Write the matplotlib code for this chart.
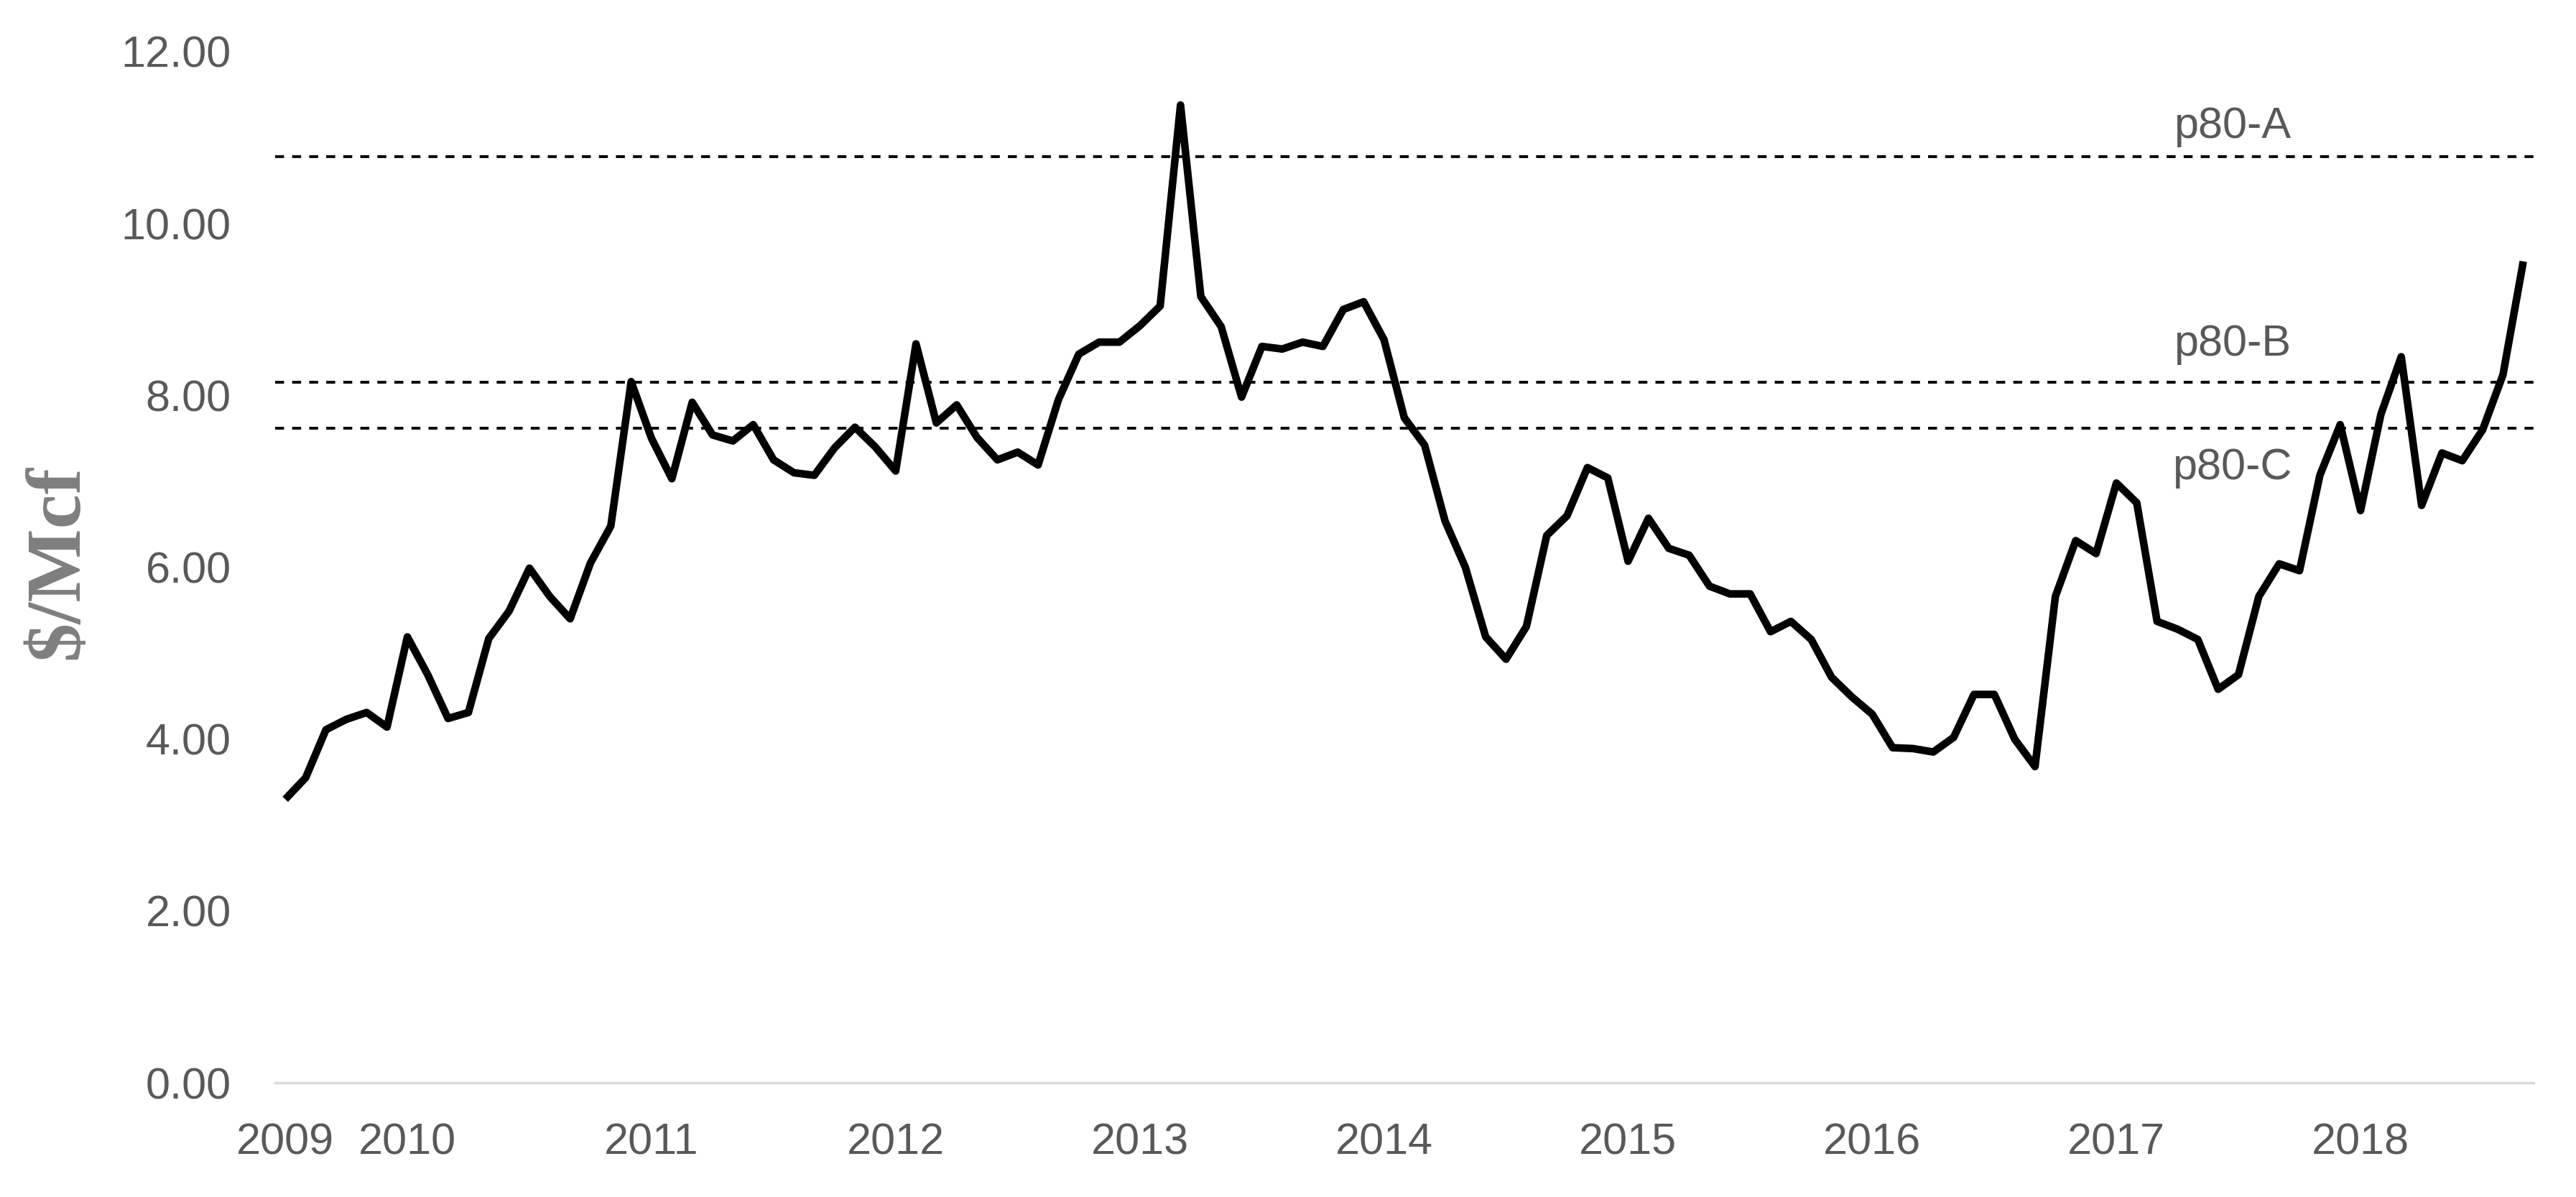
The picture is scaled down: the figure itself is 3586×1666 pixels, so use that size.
import matplotlib
matplotlib.use("Agg")
import matplotlib.pyplot as plt
import pandas as pd

# monthly price, Jul 2009 .. Sep 2018 ($/Mcf)
price = [
    3.30, 3.55, 4.11, 4.23, 4.31, 4.14, 5.19, 4.75, 4.24, 4.31, 5.17, 5.49,
    5.99, 5.66, 5.40, 6.05, 6.48, 8.16, 7.50, 7.03, 7.92, 7.54, 7.47, 7.66,
    7.25, 7.10, 7.07, 7.39, 7.63, 7.40, 7.12, 8.60, 7.68, 7.89, 7.51, 7.25,
    7.34, 7.19, 7.95, 8.48, 8.62, 8.62, 8.81, 9.04, 11.38, 9.15, 8.80, 7.98,
    8.57, 8.54, 8.62, 8.57, 9.00, 9.09, 8.65, 7.74, 7.42, 6.54, 6.00, 5.19,
    4.93, 5.31, 6.37, 6.60, 7.16, 7.04, 6.07, 6.57, 6.22, 6.14, 5.78, 5.69,
    5.69, 5.25, 5.37, 5.16, 4.72, 4.49, 4.29, 3.90, 3.89, 3.85, 4.02, 4.52,
    4.52, 4.00, 3.68, 5.66, 6.31, 6.16, 6.98, 6.75, 5.37, 5.28, 5.16, 4.58,
    4.75, 5.66, 6.04, 5.96, 7.07, 7.66, 6.66, 7.78, 8.45, 6.72, 7.33, 7.24,
    7.60, 8.24, 9.56,
]
months = pd.date_range("2009-07-01", periods=len(price), freq="MS")

ref_names = ["p80-A", "p80-B", "p80-C"]
ref_levels = [10.78, 8.15, 7.62]
ref_offsets = [15, 19, -20]   # label offset from its line, points

yticks = [0, 2, 4, 6, 8, 10, 12]

grey = "#595959"
plt.rcParams["font.family"] = ["Liberation Sans", "DejaVu Sans"]

fig = plt.figure(figsize=(3586 / 200, 1666 / 200), dpi=200)
ax = fig.add_axes([0.1068, 0.0954, 0.8767, 0.8614])

x = list(range(len(price)))
ax.plot(x, price, color="black", lw=3.8, solid_joinstyle="round",
        solid_capstyle="butt")

for name, lev, off in zip(ref_names, ref_levels, ref_offsets):
    ax.axhline(lev, color="black", lw=1.4, ls=(0, (3.2, 2.9)))
    ax.annotate(name, xy=(95.7, lev), xytext=(0, off), textcoords="offset points",
                ha="center", va="center", fontsize=22, color=grey)

# year labels at first point and every January
tick_pos = [i for i, m in enumerate(months) if i == 0 or m.month == 1]
tick_lab = [str(months[i].year) for i in tick_pos]
ax.set_xticks(tick_pos)
ax.set_xticklabels(tick_lab)
ax.set_xlim(-0.5, len(price) - 0.5)

ax.set_ylim(0, 12)
ax.set_yticks(yticks)
ax.set_yticklabels([f"{v:.2f}" for v in yticks])

ax.tick_params(axis="both", length=0, labelsize=22, colors=grey)
ax.tick_params(axis="y", pad=22)
ax.tick_params(axis="x", pad=20)

for s in ["top", "right", "left"]:
    ax.spines[s].set_visible(False)
ax.spines["bottom"].set_color("#d9d9d9")
ax.spines["bottom"].set_linewidth(1.2)

fig.text(0.023, 0.53, "$/Mcf", rotation=90, ha="center", va="center",
         fontsize=39, fontweight="bold", color="#7f7f7f",
         family=["Liberation Serif", "DejaVu Serif"])

fig.savefig("out.png", dpi=200)
